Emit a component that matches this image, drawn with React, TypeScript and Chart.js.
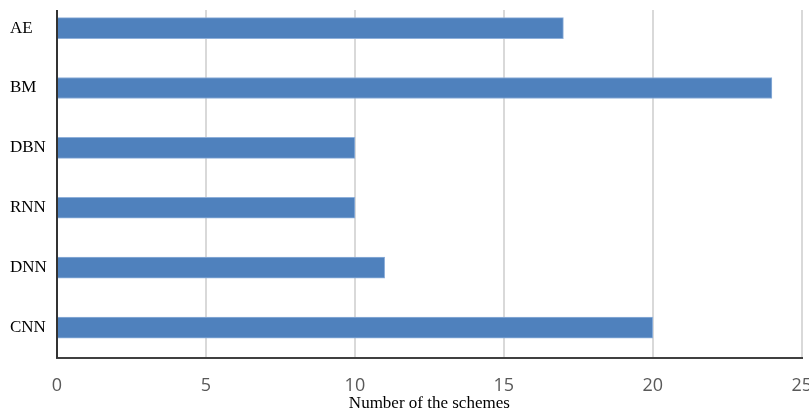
import React, { useEffect, useRef } from "react";
import { Chart, registerables } from "chart.js";

Chart.register(...registerables);

const categories = ["AE", "BM", "DBN", "RNN", "DNN", "CNN"];
const schemeCounts = [17, 24, 10, 10, 11, 20];
const xTicks = [0, 5, 10, 15, 20, 25];
const xTitle = "Number of the schemes";

export default function App() {
  const ref = useRef<HTMLCanvasElement | null>(null);

  useEffect(() => {
    if (!ref.current) return;
    const chart = new Chart(ref.current, {
      type: "bar",
      data: {
        labels: categories,
        datasets: [
          {
            data: schemeCounts,
            backgroundColor: "#4F81BD",
            borderColor: "#8FB0DA",
            borderWidth: 1,
            borderSkipped: "left",
            barThickness: 21,
          },
        ],
      },
      options: {
        indexAxis: "y",
        responsive: false,
        animation: false,
        devicePixelRatio: 1,
        layout: { padding: { top: 10, right: 20, left: 10, bottom: 0 } },
        plugins: {
          legend: { display: false },
          tooltip: { enabled: false },
        },
        scales: {
          x: {
            min: 0,
            max: 25,
            afterBuildTicks: (s: any) => {
              s.ticks = xTicks.map((v) => ({ value: v }));
            },
            afterFit: (s: any) => {
              s.height = 61.5;
            },
            grid: {
              color: "#D9D9D9",
              lineWidth: 2,
              drawTicks: false,
            },
            border: { display: true, color: "#404040", width: 2 },
            ticks: {
              padding: 18,
              color: "#595959",
              font: { family: "'Open Sans', 'Liberation Sans', sans-serif", size: 18 },
            },
            title: {
              display: true,
              text: xTitle,
              color: "#000000",
              font: { family: "'Liberation Serif', 'DejaVu Serif', serif", size: 17 },
              padding: { top: 0, bottom: 5 },
            },
          },
          y: {
            afterFit: (s: any) => {
              s.width = 47;
            },
            grid: { display: false, drawTicks: false },
            border: { display: true, color: "#333333", width: 2 },
            ticks: {
              crossAlign: "far",
              padding: 10,
              color: "#000000",
              font: { family: "'Liberation Serif', 'DejaVu Serif', serif", size: 17 },
            },
          },
        },
      },
      plugins: [
        {
          id: "topMask",
          afterDraw: (c: any) => {
            const ctx = c.ctx;
            ctx.save();
            ctx.fillStyle = "#ffffff";
            ctx.fillRect(50, 0, c.width, 32);
            ctx.restore();
          },
        },
      ],
    });
    return () => chart.destroy();
  }, []);

  return (
    <div
      style={{
        position: "fixed",
        left: 0,
        top: 0,
        width: 809,
        height: 419,
        overflow: "hidden",
        background: "#ffffff",
      }}
    >
      <canvas
        ref={ref}
        width={830}
        height={441}
        style={{ position: "absolute", left: 0, top: -22, width: 830, height: 441 }}
      />
    </div>
  );
}
